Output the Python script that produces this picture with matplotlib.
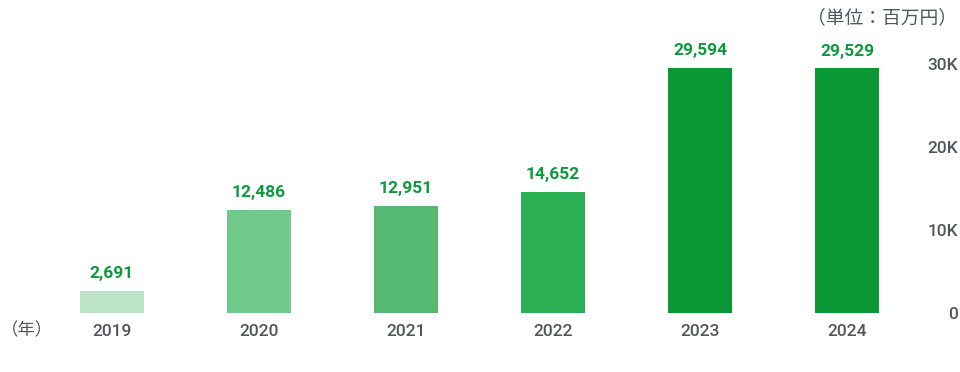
import matplotlib
matplotlib.use("Agg")
import matplotlib.pyplot as plt
from matplotlib.ticker import FuncFormatter

years = ["2019", "2020", "2021", "2022", "2023", "2024"]
values = [2691, 12486, 12951, 14652, 29594, 29529]
colors = ["#bbe3c5", "#71c98b", "#55b972", "#2bb055", "#0a9834", "#0a9834"]
yticks = [0, 10000, 20000, 30000]

plt.rcParams['font.family'] = ['Roboto', 'Noto Sans CJK JP', 'DejaVu Sans']

W, H = 960, 372
fig = plt.figure(figsize=(W / 100, H / 100), dpi=100)
left, right = 38.5, 920.5
bottom, top = 313, 64.5
ax = fig.add_axes([left / W, (H - bottom) / H, (right - left) / W, (bottom - top) / H])

x = list(range(len(years)))
bars = ax.bar(x, values, width=64 / 147, color=colors)
ax.set_xlim(-0.5, len(years) - 0.5)
ax.set_ylim(0, 30000)

for xi, v in zip(x, values):
    ax.annotate(f"{v:,}", (xi, v), xytext=(0, 9.2), textcoords="offset points",
                ha="center", va="baseline", fontsize=12.5, fontweight="bold",
                color="#0c9a3c", annotation_clip=False)

ax.set_xticks(x)
ax.set_xticklabels(years)
ax.yaxis.tick_right()
ax.set_yticks(yticks)
ax.yaxis.set_major_formatter(FuncFormatter(lambda v, p: "0" if v == 0 else f"{int(v/1000)}K"))
for lab in ax.get_yticklabels():
    lab.set_horizontalalignment("right")
    lab.set_fontweight(500)
for lab in ax.get_xticklabels():
    lab.set_fontweight(500)
ax.tick_params(axis="y", length=0, pad=27, labelsize=12.5, labelcolor="#50565b")
ax.tick_params(axis="x", length=0, pad=8, labelsize=12.5, labelcolor="#50565b")
for s in ax.spines.values():
    s.set_visible(False)

fig.text(957 / W, (H - 18) / H, "（単位：百万円）", ha="right", va="center",
         fontsize=13.5, color="#50565b", family=['Noto Sans CJK JP', 'DejaVu Sans'])
fig.text(1 / W, (H - 330) / H, "（年）", ha="left", va="center",
         fontsize=12.5, color="#50565b", family=['Noto Sans CJK JP', 'DejaVu Sans'])

fig.savefig("out.png", dpi=100)
